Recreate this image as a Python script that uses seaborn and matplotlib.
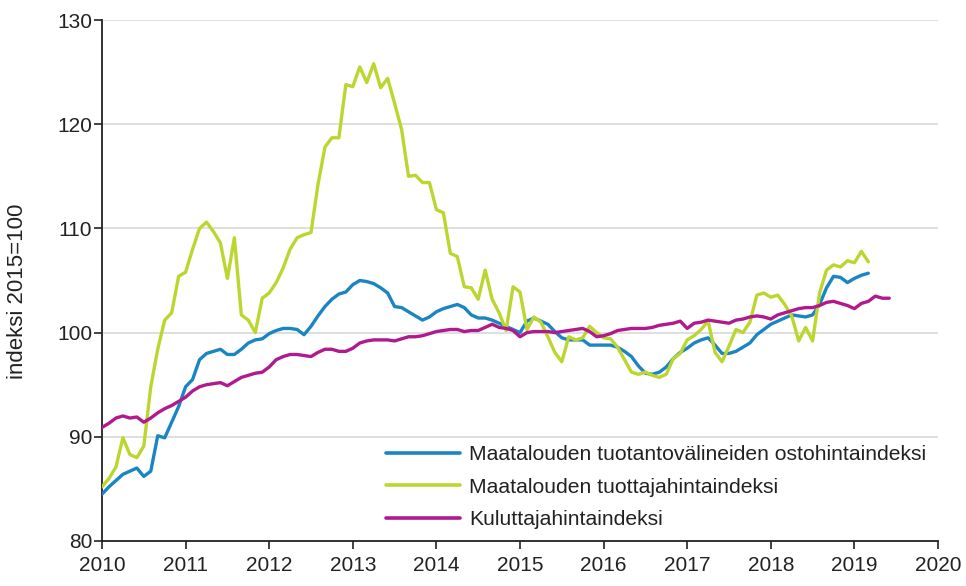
import numpy as np
import pandas as pd
import matplotlib
matplotlib.use("Agg")
import matplotlib.pyplot as plt
import seaborn as sns
from matplotlib.lines import Line2D

# Monthly series starting January 2010
start_year = 2010

blue_vals = [84.5, 85.2, 85.8, 86.4, 86.7, 87.0, 86.2, 86.7, 90.1, 89.9, 91.4, 92.9,
             94.8, 95.5, 97.4, 98.0, 98.2, 98.4, 97.9, 97.9, 98.4, 99.0, 99.3, 99.4,
             99.9, 100.2, 100.4, 100.4, 100.3, 99.8, 100.6, 101.6, 102.5, 103.2, 103.7, 103.9,
             104.6, 105.0, 104.9, 104.7, 104.3, 103.8, 102.5, 102.4, 102.0, 101.6, 101.2, 101.5,
             102.0, 102.3, 102.5, 102.7, 102.4, 101.7, 101.4, 101.4, 101.2, 100.9, 100.6, 100.3,
             100.0, 101.1, 101.4, 101.1, 100.8, 100.1, 99.5, 99.3, 99.3, 99.3, 98.8, 98.8,
             98.8, 98.8, 98.6, 98.2, 97.7, 96.8, 96.1, 96.0, 96.2, 96.7, 97.5, 98.1,
             98.5, 99.0, 99.3, 99.5, 98.8, 98.0, 98.0, 98.2, 98.6, 99.0, 99.8, 100.3,
             100.8, 101.1, 101.4, 101.7, 101.6, 101.5, 101.7, 102.7, 104.3, 105.4, 105.3, 104.8,
             105.2, 105.5, 105.7]

green_vals = [85.2, 86.0, 87.1, 89.9, 88.3, 88.0, 89.1, 94.8, 98.4, 101.2, 101.9, 105.4,
              105.8, 108.0, 110.0, 110.6, 109.7, 108.6, 105.2, 109.1, 101.7, 101.2, 100.0, 103.3,
              103.8, 104.8, 106.2, 108.0, 109.1, 109.4, 109.6, 114.2, 117.8, 118.7, 118.7, 123.8,
              123.6, 125.5, 124.0, 125.8, 123.5, 124.4, 122.0, 119.5, 115.0, 115.1, 114.4, 114.4,
              111.8, 111.5, 107.6, 107.3, 104.4, 104.3, 103.2, 106.0, 103.2, 101.9, 100.2, 104.4,
              103.9, 100.3, 101.5, 101.0, 99.6, 98.1, 97.2, 99.6, 99.3, 99.5, 100.6, 100.0,
              99.5, 99.4, 98.6, 97.4, 96.2, 96.0, 96.2, 95.9, 95.7, 96.0, 97.5, 98.0,
              99.3, 99.7, 100.3, 101.1, 98.1, 97.2, 98.7, 100.3, 100.0, 101.0, 103.6, 103.8,
              103.4, 103.6, 102.7, 101.6, 99.2, 100.5, 99.2, 103.8, 106.0, 106.5, 106.3, 106.9,
              106.7, 107.8, 106.8]

purple_vals = [90.9, 91.3, 91.8, 92.0, 91.8, 91.9, 91.4, 91.8, 92.3, 92.7, 93.0, 93.4,
               93.8, 94.4, 94.8, 95.0, 95.1, 95.2, 94.9, 95.3, 95.7, 95.9, 96.1, 96.2,
               96.7, 97.4, 97.7, 97.9, 97.9, 97.8, 97.7, 98.1, 98.4, 98.4, 98.2, 98.2,
               98.5, 99.0, 99.2, 99.3, 99.3, 99.3, 99.2, 99.4, 99.6, 99.6, 99.7, 99.9,
               100.1, 100.2, 100.3, 100.3, 100.1, 100.2, 100.2, 100.5, 100.8, 100.5, 100.4, 100.2,
               99.6, 100.0, 100.1, 100.1, 100.1, 100.0, 100.1, 100.2, 100.3, 100.4, 100.1, 99.6,
               99.7, 99.9, 100.2, 100.3, 100.4, 100.4, 100.4, 100.5, 100.7, 100.8, 100.9, 101.1,
               100.4, 100.9, 101.0, 101.2, 101.1, 101.0, 100.9, 101.2, 101.3, 101.5, 101.6, 101.5,
               101.3, 101.7, 101.9, 102.1, 102.3, 102.4, 102.4, 102.6, 102.9, 103.0, 102.8, 102.6,
               102.3, 102.8, 103.0, 103.5, 103.3, 103.3]

series_names = ["Maatalouden tuotantovälineiden ostohintaindeksi",
                "Maatalouden tuottajahintaindeksi",
                "Kuluttajahintaindeksi"]
colors = ["#1a85c3", "#bcd630", "#b01a8e"]

x_ticks = list(range(2010, 2021))
y_ticks = [80, 90, 100, 110, 120, 130]
y_label = "indeksi 2015=100"

frames = []
for name, vals in zip(series_names, [blue_vals, green_vals, purple_vals]):
    t = start_year + np.arange(len(vals)) / 12.0
    frames.append(pd.DataFrame({"aika": t, "arvo": vals, "sarja": name}))
df = pd.concat(frames, ignore_index=True)

sns.set_theme(style="white")
plt.rcParams["font.family"] = ["Liberation Sans", "DejaVu Sans"]

fig = plt.figure(figsize=(9.66, 5.86), dpi=100)
ax = fig.add_axes([102 / 966, 1 - 541 / 586, (938 - 102) / 966, (541 - 20) / 586])

sns.lineplot(data=df, x="aika", y="arvo", hue="sarja", hue_order=series_names,
             palette=colors, linewidth=2.4, ax=ax, legend=False, zorder=3)

ax.set_xlim(2010, 2020)
ax.set_ylim(80, 130)
ax.set_xticks(x_ticks)
ax.set_xticklabels([str(v) for v in x_ticks])
ax.set_yticks(y_ticks)
ax.set_yticklabels([str(v) for v in y_ticks])
ax.set_xlabel("")
ax.set_ylabel(y_label, fontsize=16, color="#222222")
ax.yaxis.set_label_coords(-0.0885, 0.48)

for v in y_ticks[1:]:
    ax.axhline(v, color="#dcdcdc", linewidth=1.3, zorder=1)

for s in ["top", "right"]:
    ax.spines[s].set_visible(False)
for s in ["left", "bottom"]:
    ax.spines[s].set_color("#222222")
    ax.spines[s].set_linewidth(1.3)

ax.tick_params(axis="both", which="major", direction="out", length=6, width=1.2,
               color="#222222", labelcolor="#222222", left=True, bottom=True,
               labelsize=15)
ax.tick_params(axis="x", pad=5)
ax.tick_params(axis="y", pad=1)

handles = [Line2D([0], [0], color=c, linewidth=2.6) for c in colors]
leg = ax.legend(handles, series_names, loc="lower right", bbox_to_anchor=(1.0, 0.0),
                frameon=False, fontsize=15.2, handlelength=3.5, handletextpad=0.45,
                labelspacing=0.65, borderpad=0.55, borderaxespad=0.0)
for txt in leg.get_texts():
    txt.set_color("#222222")

fig.savefig("out.png", dpi=100, facecolor="white")
